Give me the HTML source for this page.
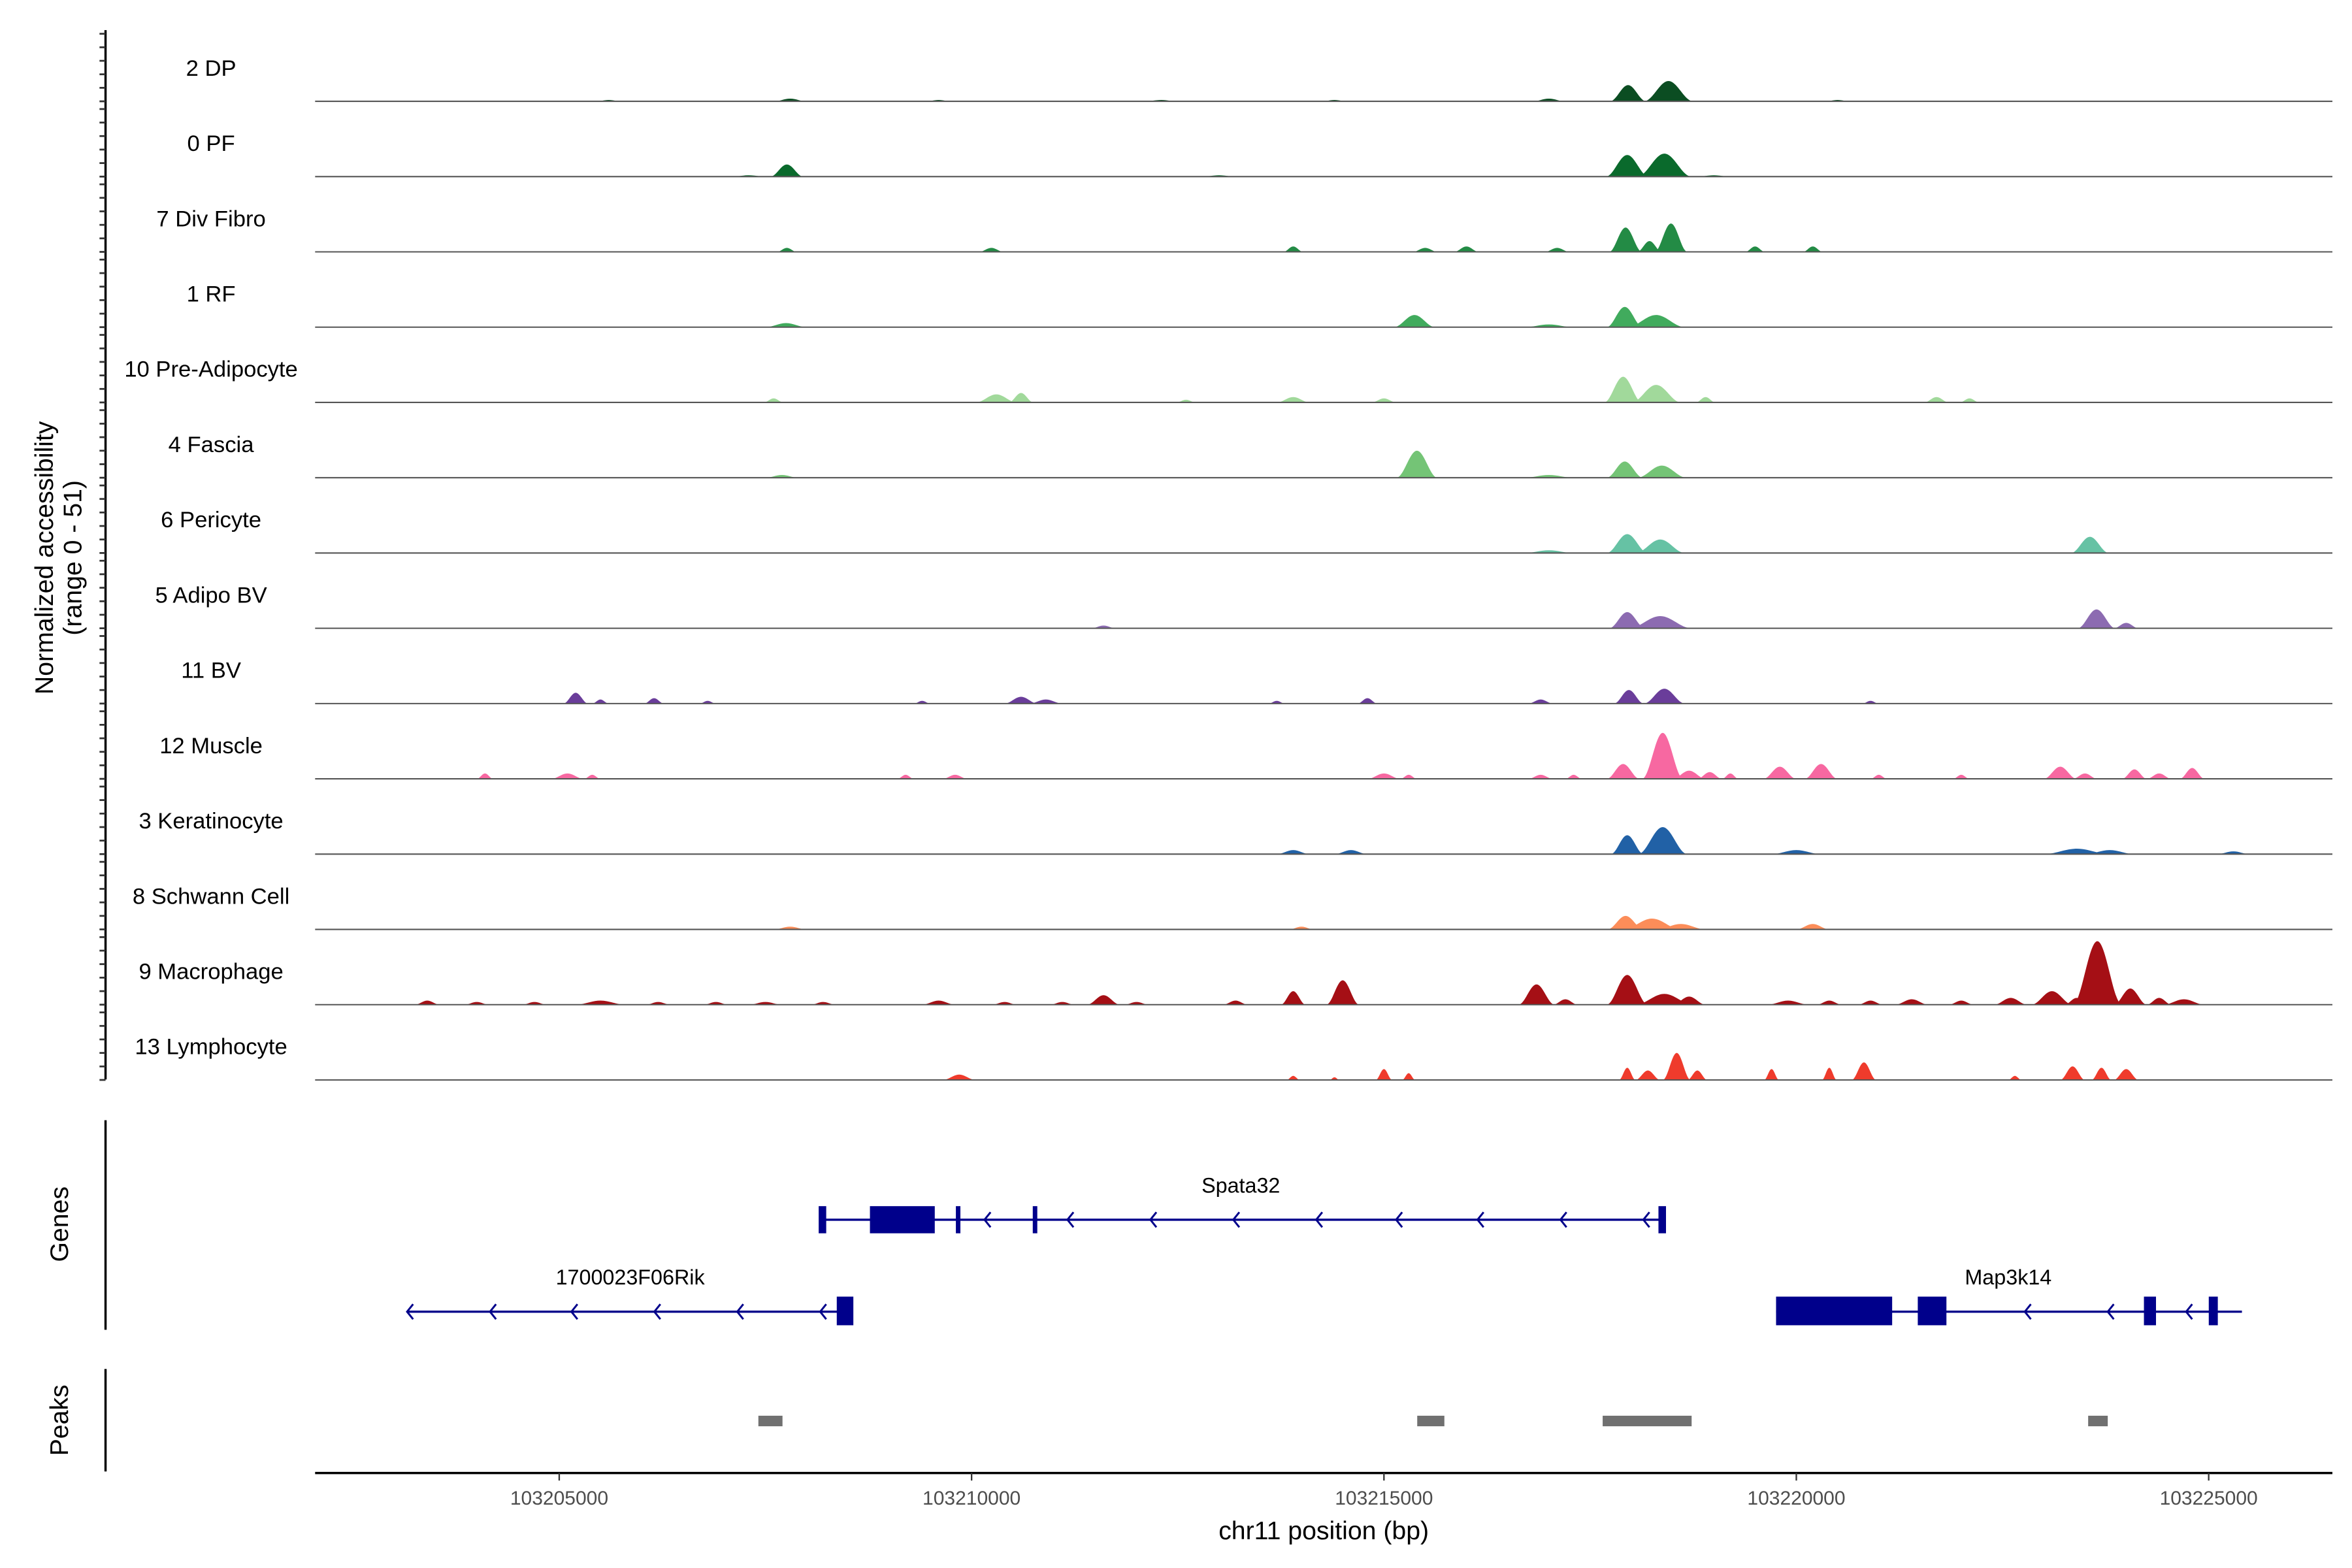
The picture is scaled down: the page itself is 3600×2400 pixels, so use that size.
<!DOCTYPE html>
<html><head><meta charset="utf-8"><style>
html,body{margin:0;padding:0;background:#fff}
svg{display:block}
text{font-family:"Liberation Sans",sans-serif}
</style></head><body>
<svg id="chart" width="3600" height="2400" viewBox="0 0 1560 1040" xmlns="http://www.w3.org/2000/svg">
<g id="tracks"></g>
<g id="yaxis"></g>
<text transform="translate(35,370) rotate(-90)" text-anchor="middle" font-size="17">Normalized accessibility</text>
<text transform="translate(54,370) rotate(-90)" text-anchor="middle" font-size="17">(range 0 - 51)</text>
<g id="genes"></g>
<line x1="70" y1="743" x2="70" y2="882" stroke="#000" stroke-width="1.5"/>
<text transform="translate(45,812) rotate(-90)" text-anchor="middle" font-size="17">Genes</text>
<line x1="70" y1="908" x2="70" y2="976" stroke="#000" stroke-width="1.5"/>
<text transform="translate(45,942) rotate(-90)" text-anchor="middle" font-size="17">Peaks</text>
<g id="peaks"></g>
<g id="xaxis"></g>
<text x="878" y="1021" text-anchor="middle" font-size="17">chr11 position (bp)</text>
</svg>
<script>
const NS="http://www.w3.org/2000/svg";
// ---- data ----
const trackNames=["2 DP","0 PF","7 Div Fibro","1 RF","10 Pre-Adipocyte","4 Fascia","6 Pericyte","5 Adipo BV","11 BV","12 Muscle","3 Keratinocyte","8 Schwann Cell","9 Macrophage","13 Lymphocyte"];
const trackColors=["#0b4d22","#0a6a2c","#238b45","#41ab5d","#a1d99b","#74c476","#66c2a4","#8c6bb1","#6a3d9a","#f768a1","#2161a6","#fc8d59","#a50f15","#ef3b2c"];
// peak centres (bp), heights (0-51) and half-widths (bp) per track
const peakCenters=[
[103207800,103212300,103217000,103217960,103218450,103205600,103209600,103214400,103220500],
[103207760,103217950,103218400,103213000,103207300,103219000],
[103207760,103210240,103213900,103215500,103216000,103217930,103218220,103218480,103219500,103220200,103217100],
[103207750,103215370,103217920,103218300,103217000],
[103207600,103210300,103210600,103212600,103213900,103215000,103217900,103218300,103218900,103221700,103222100],
[103207700,103215400,103217920,103218370,103217000],
[103217950,103218350,103223560,103217000],
[103211600,103217950,103218350,103223640,103224000],
[103205200,103206150,103210600,103210900,103214800,103216900,103217970,103218400,103205500,103206800,103209400,103213700,103220900],
[103204100,103205100,103209800,103215000,103216900,103217900,103218380,103218700,103219800,103220300,103223200,103224100,103224800,103205400,103209200,103215300,103217300,103218950,103219200,103221000,103222000,103223500,103224400],
[103213900,103214600,103217950,103218380,103220000,103223400,103223800,103225300],
[103207800,103214000,103217930,103218250,103218600,103220200],
[103203400,103205500,103207500,103209600,103211600,103213900,103214500,103216850,103217950,103218400,103219900,103220900,103221400,103222600,103223100,103223650,103224050,103224700,103204000,103204700,103206200,103206900,103208200,103210400,103211100,103212000,103213200,103217200,103218700,103220400,103222000,103223400,103224400],
[103209850,103213900,103215000,103217950,103218550,103219700,103220400,103220820,103223350,103223700,103224000,103218200,103218800,103215300,103214400,103222650]
];
const peakHeights=[
[2,1,2,12,15,1,1,1,1],
[9,16,17,1,1,1],
[3,3,4,3,4,18,8,21,4,4,3],
[3,9,15,9,2],
[3,6,7,2,4,3,19,13,4,4,3],
[2,20,12,9,2],
[14,10,12,2],
[2,12,9,14,4],
[8,4,5,3,4,3,10,11,3,2,2,2,2],
[4,4,3,4,3,11,34,6,9,11,9,7,8,3,3,3,3,5,4,3,3,4,4],
[3,3,14,20,3,4,3,2],
[2,2,10,8,4,4],
[3,3,2,3,7,10,18,15,22,8,3,3,4,5,10,47,12,4,2,2,2,2,2,2,2,2,3,4,6,3,3,5,5],
[4,3,8,9,20,8,9,13,10,9,8,7,7,5,2,3]
];
const peakWidths=[
[200,200,200,220,300,150,150,150,150],
[200,260,330,200,200,200],
[120,150,120,150,150,200,150,200,120,120,150],
[250,250,220,350,300],
[120,250,150,120,200,150,230,300,120,150,120],
[200,250,220,300,300],
[250,300,230,300],
[150,220,380,230,150],
[150,120,200,200,120,150,180,250,100,100,100,100,100],
[100,200,150,200,150,200,250,200,200,200,200,150,150,100,100,100,100,150,100,100,100,150,150],
[200,200,200,300,300,400,300,200],
[200,150,220,350,300,200],
[150,300,200,200,200,150,200,220,250,350,250,150,200,200,250,300,200,250,150,150,150,150,150,150,150,150,150,150,200,150,150,150,150],
[200,80,100,100,170,90,90,150,150,120,150,150,120,80,60,80]
];
const xTicks=[103205000,103210000,103215000,103220000,103225000];
const xTickLabels=["103205000","103210000","103215000","103220000","103225000"];
const bpStart=103202040, bpEnd=103226500;
// ---- scales ----
const X0=209,X1=1547;
const xs=bp=>X0+(bp-bpStart)/(bpEnd-bpStart)*(X1-X0);
const baseY=i=>67.2+i*49.93;
const ys=(i,v)=>baseY(i)-v*0.896;
const tracksG=document.getElementById('tracks');
trackNames.forEach((name,i)=>{
  const g=document.createElementNS(NS,'g');
  
  
  peakCenters[i].forEach((c,j)=>{
    const h=peakHeights[i][j], w=peakWidths[i][j];
    const p=document.createElementNS(NS,'path');
    const l=xs(c-w), r=xs(c+w), m=xs(c), b=baseY(i), t=ys(i,h);
    const q=(r-l)*0.18;
    p.setAttribute('d',`M${l},${b} C${l+q},${b} ${m-q},${t} ${m},${t} C${m+q},${t} ${r-q},${b} ${r},${b} Z`);
    p.setAttribute('fill',trackColors[i]);
    
    
    g.appendChild(p);
  });
  const ln=document.createElementNS(NS,'line');
  ln.setAttribute('x1',X0);ln.setAttribute('x2',X1);ln.setAttribute('y1',baseY(i));ln.setAttribute('y2',baseY(i));
  ln.setAttribute('stroke','#555');ln.setAttribute('stroke-width','0.9');
  
  
  g.appendChild(ln);
  const tx=document.createElementNS(NS,'text');
  tx.setAttribute('x',140);tx.setAttribute('y',baseY(i)-17);tx.setAttribute('text-anchor','middle');tx.setAttribute('font-size','15');
  tx.textContent=name;
  
  
  g.appendChild(tx);
  tracksG.appendChild(g);
});
// y axis
const ya=document.getElementById('yaxis');
let s=`<line x1="70" y1="20" x2="70" y2="716" stroke="#000" stroke-width="1.5"/>`;
trackNames.forEach((n,i)=>{for(let v=0;v<=50;v+=10){const y=ys(i,v);s+=`<line x1="66" x2="70" y1="${y}" y2="${y}" stroke="#333" stroke-width="1.2"/>`;}});
ya.innerHTML=s;
// genes
const gg=document.getElementById('genes');
const B="#00008b";
let gs='';
function arrow(x,y){return `<polyline points="${x+2},${y-5} ${x-2},${y} ${x+2},${y+5}" fill="none" stroke="${B}" stroke-width="1.3"/>`;}
gs+=`<line x1="545" y1="809" x2="1102" y2="809" stroke="${B}" stroke-width="1.5"/>`;
gs+=`<rect x="543" y="800" width="5" height="18" fill="${B}"/><rect x="577" y="800" width="43" height="18" fill="${B}"/><rect x="634" y="800" width="3" height="18" fill="${B}"/><rect x="685" y="800" width="3" height="18" fill="${B}"/><rect x="1100" y="800" width="5" height="18" fill="${B}"/>`;
[655,710,765,820,875,928,982,1037,1092].forEach(x=>gs+=arrow(x,809));
gs+=`<text x="823" y="791" text-anchor="middle" font-size="14">Spata32</text>`;
gs+=`<line x1="270" y1="870" x2="557" y2="870" stroke="${B}" stroke-width="1.5"/><rect x="555" y="860" width="11" height="19" fill="${B}"/>`;
[272,327,381,436,491,546].forEach(x=>gs+=arrow(x,870));
gs+=`<text x="418" y="852" text-anchor="middle" font-size="14">1700023F06Rik</text>`;
gs+=`<line x1="1178" y1="870" x2="1487" y2="870" stroke="${B}" stroke-width="1.5"/><rect x="1178" y="860" width="77" height="19" fill="${B}"/><rect x="1272" y="860" width="19" height="19" fill="${B}"/><rect x="1422" y="860" width="8" height="19" fill="${B}"/><rect x="1465" y="860" width="6" height="19" fill="${B}"/>`;
[1345,1400,1452].forEach(x=>gs+=arrow(x,870));
gs+=`<text x="1332" y="852" text-anchor="middle" font-size="14">Map3k14</text>`;
gg.innerHTML=gs;
// peaks
document.getElementById('peaks').innerHTML=`<rect x="503" y="939" width="16" height="7" fill="#707070"/><rect x="940" y="939" width="18" height="7" fill="#707070"/><rect x="1063" y="939" width="59" height="7" fill="#707070"/><rect x="1385" y="939" width="13" height="7" fill="#707070"/>`;
// x axis
let xa=`<line x1="${X0}" y1="977" x2="${X1}" y2="977" stroke="#000" stroke-width="1.5"/>`;
xTicks.forEach((t,i)=>{const x=xs(t);xa+=`<line x1="${x}" x2="${x}" y1="977" y2="982" stroke="#333"/><text x="${x}" y="998" text-anchor="middle" font-size="13" fill="#4d4d4d">${xTickLabels[i]}</text>`;});
document.getElementById('xaxis').innerHTML=xa;
</script>
</body></html>
